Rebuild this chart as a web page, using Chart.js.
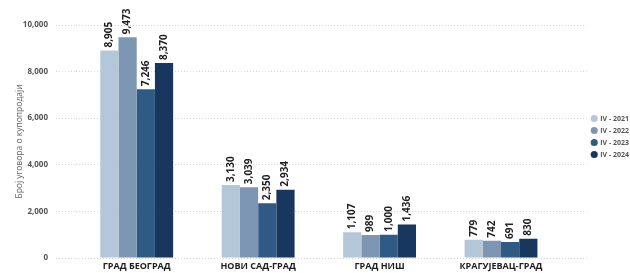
<!DOCTYPE html>
<html>
<head>
<meta charset="utf-8">
<script src="https://cdn.jsdelivr.net/npm/chart.js@4"></script>
<style>
  html, body { margin: 0; padding: 0; background: #fff; }
  #wrap { width: 630px; height: 273px; }
</style>
</head>
<body>
<div id="wrap"><canvas id="chart"></canvas></div>
<script>
// cities and yearly counts (Q4)
const categories = ['ГРАД БЕОГРАД', 'НОВИ САД-ГРАД', 'ГРАД НИШ', 'КРАГУЈЕВАЦ-ГРАД'];
const seriesNames = ['IV - 2021', 'IV - 2022', 'IV - 2023', 'IV - 2024'];
const iv2021 = [8905, 3130, 1107, 779];
const iv2022 = [9473, 3039, 989, 742];
const iv2023 = [7246, 2350, 1000, 691];
const iv2024 = [8370, 2934, 1436, 830];
const yTicks = [0, 2000, 4000, 6000, 8000, 10000];

const colors = ['#b4c7d9', '#7c96b4', '#2e5a84', '#17375e'];
const font = '"Open Sans", "Noto Sans", sans-serif';

// rotated value labels on top of each bar
const barLabels = {
  id: 'barLabels',
  afterDatasetsDraw(chart) {
    const ctx = chart.ctx;
    ctx.save();
    ctx.font = 'bold 10px ' + font;
    ctx.fillStyle = '#1e1e1e';
    ctx.textAlign = 'left';
    ctx.textBaseline = 'middle';
    chart.data.datasets.forEach((ds, i) => {
      chart.getDatasetMeta(i).data.forEach((bar, j) => {
        ctx.save();
        ctx.translate(bar.x, bar.y - 3);
        ctx.rotate(-Math.PI / 2);
        ctx.fillText(ds.data[j].toLocaleString('en-US'), 0, 0);
        ctx.restore();
      });
    });
    ctx.restore();
  }
};

const gridStyle = {
  color: '#d4d4d4',
  lineWidth: 1,
  tickColor: '#d4d4d4',
  tickBorderDash: [1, 2]
};

new Chart(document.getElementById('chart'), {
  type: 'bar',
  data: {
    labels: categories,
    datasets: [iv2021, iv2022, iv2023, iv2024].map((d, i) => ({
      label: seriesNames[i],
      data: d,
      backgroundColor: colors[i],
      borderWidth: 0,
      barPercentage: 1,
      categoryPercentage: 0.6
    }))
  },
  options: {
    responsive: true,
    maintainAspectRatio: false,
    animation: false,
    layout: { padding: { top: 0, left: 4, right: -9, bottom: 0 } },
    plugins: {
      legend: {
        position: 'right',
        labels: {
          usePointStyle: true,
          pointStyle: 'circle',
          boxWidth: 5,
          boxHeight: 5,
          padding: 5,
          color: '#555',
          font: { family: font, size: 7, weight: 'bold' }
        }
      },
      tooltip: { enabled: false }
    },
    scales: {
      x: {
        grid: { display: false, drawTicks: false },
        border: { display: false },
        ticks: {
          color: '#1e1e1e',
          padding: 3,
          font: { family: font, size: 9, weight: 'bold' }
        },
        afterFit(s) { s.height = 15; }
      },
      // empty band above the plot for the value labels
      xTop: {
        position: 'top',
        grid: { display: false, drawTicks: false },
        border: { display: false },
        ticks: { display: false },
        afterFit(s) { s.height = 25; }
      },
      y: {
        min: 0,
        max: 10000,
        afterBuildTicks(s) { s.ticks = yTicks.map(v => ({ value: v })); },
        border: { display: false, dash: [1, 2] },
        grid: Object.assign({ tickLength: 20 }, gridStyle),
        ticks: {
          color: '#555',
          padding: 8,
          font: { family: font, size: 8, weight: 'bold' },
          callback: v => v.toLocaleString('en-US')
        },
        title: {
          display: true,
          text: 'Број уговора о купопродаји',
          color: '#666',
          padding: { top: 10, bottom: 0 },
          font: { family: font, size: 8.5 }
        },
        afterFit(s) { s.width = 72; }
      },
      y2: {
        position: 'right',
        min: 0,
        max: 10000,
        afterBuildTicks(s) { s.ticks = yTicks.map(v => ({ value: v })); },
        border: { display: false },
        grid: Object.assign({ drawOnChartArea: false, tickLength: 25 }, gridStyle),
        ticks: { display: false },
        afterFit(s) { s.width = 25; }
      }
    }
  },
  plugins: [barLabels]
});
</script>
</body>
</html>
